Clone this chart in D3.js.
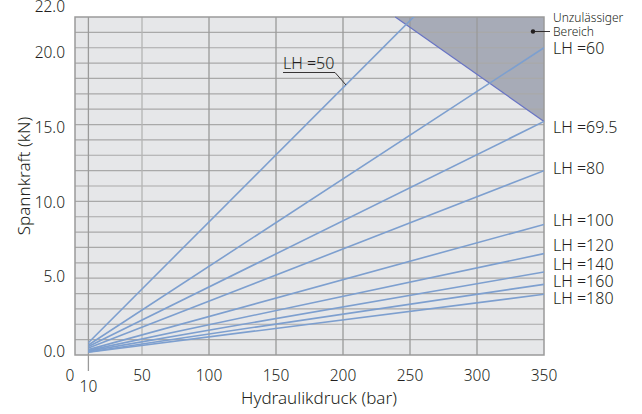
<!DOCTYPE html>
<html>
<head>
<meta charset="utf-8">
<script src="https://cdn.jsdelivr.net/npm/d3@7"></script>
<style>
  html, body { margin: 0; padding: 0; background: #fff; }
  svg { display: block; font-family: "Noto Sans", "Open Sans", sans-serif; font-weight: 350; }
</style>
</head>
<body>
<svg id="chart" width="642" height="414"></svg>
<script>
// ---------- data ----------
const lhLabels   = ["LH =50", "LH =60", "LH =69.5", "LH =80", "LH =100", "LH =120", "LH =140", "LH =160", "LH =180"];
const pressureStart = 10;    // bar
const pressureEnd   = 350;   // bar
const forceAtStart = [0.8, 0.65, 0.55, 0.45, 0.35, 0.3, 0.25, 0.2, 0.18];     // kN at 10 bar
const forceAtEnd   = [30.5, 20.0, 15.2, 12.0, 8.5, 6.6, 5.4, 4.6, 3.95];     // kN at 350 bar
const limitPressure = [239, 350];
const limitForce    = [22, 15.2];
const xTicks = [0, 10, 50, 100, 150, 200, 250, 300, 350];
const xTickLabels = ["0", "10", "50", "100", "150", "200", "250", "300", "350"];
const yTicks = [0, 5, 10, 15, 20, 22];
const yTickLabels = ["0.0", "5.0", "10.0", "15.0", "20.0", "22.0"];
const xGrid = [10, 50, 100, 150, 200, 250, 300];
const yGrid = d3.range(1, 22, 1);

// ---------- layout ----------
const svg = d3.select("#chart");
const L = 75, R = 544, T = 17, B = 355;
const x = d3.scaleLinear().domain([0, 350]).range([L, R]);
const y = d3.scaleLinear().domain([0, 22]).range([B, T]);
const yLab = d3.scaleLinear().domain([0, 20]).range([351, 52]);

const lineColor = "#7d9fcf";
const textColor = "#231f20";

svg.append("defs").append("clipPath").attr("id", "plotclip")
  .append("rect").attr("x", L).attr("y", T).attr("width", R - L).attr("height", B - T);

// background
svg.append("rect").attr("x", L).attr("y", T).attr("width", R - L).attr("height", B - T)
  .attr("fill", "#e6e7e9");

// forbidden region
const region = [[limitPressure[0], limitForce[0]], [350, 22], [limitPressure[1], limitForce[1]]];
svg.append("path")
  .attr("d", d3.line().x(d => x(d[0])).y(d => y(d[1]))(region) + "Z")
  .attr("fill", "#a7abb7");

// gridlines
svg.append("g").selectAll("line").data(yGrid).join("line")
  .attr("x1", L).attr("x2", R)
  .attr("y1", d => y(d)).attr("y2", d => y(d))
  .attr("stroke", "#a9a9a9").attr("stroke-width", 1.2);
svg.append("g").selectAll("line").data(xGrid).join("line")
  .attr("x1", d => x(d)).attr("x2", d => x(d))
  .attr("y1", T).attr("y2", d => d === 10 ? 371 : B)
  .attr("stroke", d => d === 50 ? "#b4b4b4" : "#9a9a9a").attr("stroke-width", 1.3);

// border
svg.append("rect").attr("x", L).attr("y", T).attr("width", R - L).attr("height", B - T)
  .attr("fill", "none").attr("stroke", "#9a9a9a").attr("stroke-width", 1.5);

// limit line
svg.append("line")
  .attr("x1", x(limitPressure[0])).attr("y1", y(limitForce[0]))
  .attr("x2", x(limitPressure[1])).attr("y2", y(limitForce[1]))
  .attr("stroke", "#6874c4").attr("stroke-width", 1.2);

// LH lines
const gl = svg.append("g").attr("clip-path", "url(#plotclip)");
lhLabels.forEach((lab, i) => {
  gl.append("line")
    .attr("x1", x(pressureStart)).attr("y1", y(forceAtStart[i]))
    .attr("x2", x(pressureEnd)).attr("y2", y(forceAtEnd[i]))
    .attr("stroke", lineColor).attr("stroke-width", 1.6);
});

// right labels (LH=60..180)
const labelDy = [0, 0, 6, -3, -4, -9, -8, -3, 4];
lhLabels.forEach((lab, i) => {
  if (i === 0) return;
  svg.append("text")
    .attr("x", 553).attr("y", y(forceAtEnd[i]) + labelDy[i])
    .attr("dominant-baseline", "central")
    .attr("font-size", 16).attr("fill", textColor)
    .text(lab);
});

// LH=50 label with underline and leader
svg.append("text").attr("x", 283).attr("y", 63).attr("dominant-baseline", "central")
  .attr("font-size", 16).attr("fill", textColor).text(lhLabels[0]);
svg.append("path").attr("d", "M283,72.5H335L346,85")
  .attr("fill", "none").attr("stroke", textColor).attr("stroke-width", 0.9);

// Unzulässiger Bereich
svg.append("text").attr("x", 553).attr("y", 17).attr("dominant-baseline", "central")
  .attr("font-size", 12).attr("fill", textColor).text("Unzulässiger");
svg.append("text").attr("x", 553).attr("y", 31).attr("dominant-baseline", "central")
  .attr("font-size", 12).attr("fill", textColor).text("Bereich");
svg.append("circle").attr("cx", 533).attr("cy", 31.5).attr("r", 2.2).attr("fill", textColor);
svg.append("line").attr("x1", 533).attr("x2", 550).attr("y1", 31.5).attr("y2", 31.5)
  .attr("stroke", textColor).attr("stroke-width", 0.9);

// x tick labels
svg.append("g").selectAll("text").data(xTicks).join("text")
  .attr("x", d => d === 0 ? x(d) - 5 : x(d))
  .attr("y", d => d === 10 ? 386 : 375)
  .attr("text-anchor", "middle").attr("dominant-baseline", "central")
  .attr("font-size", 15.5).attr("fill", textColor)
  .text((d, i) => xTickLabels[i]);

// y tick labels
svg.append("g").selectAll("text").data(yTicks).join("text")
  .attr("x", 65)
  .attr("y", d => d === 22 ? 6 : yLab(d))
  .attr("text-anchor", "end").attr("dominant-baseline", "central")
  .attr("font-size", 15.5).attr("fill", textColor)
  .text((d, i) => yTickLabels[i]);

// axis titles
svg.append("text").attr("x", 319).attr("y", 397)
  .attr("text-anchor", "middle").attr("dominant-baseline", "central")
  .attr("font-size", 17).attr("fill", textColor).text("Hydraulikdruck (bar)");
svg.append("text").attr("transform", "translate(30,176) rotate(-90)")
  .attr("text-anchor", "middle")
  .attr("font-size", 17).attr("fill", textColor).text("Spannkraft (kN)");
</script>
</body>
</html>
